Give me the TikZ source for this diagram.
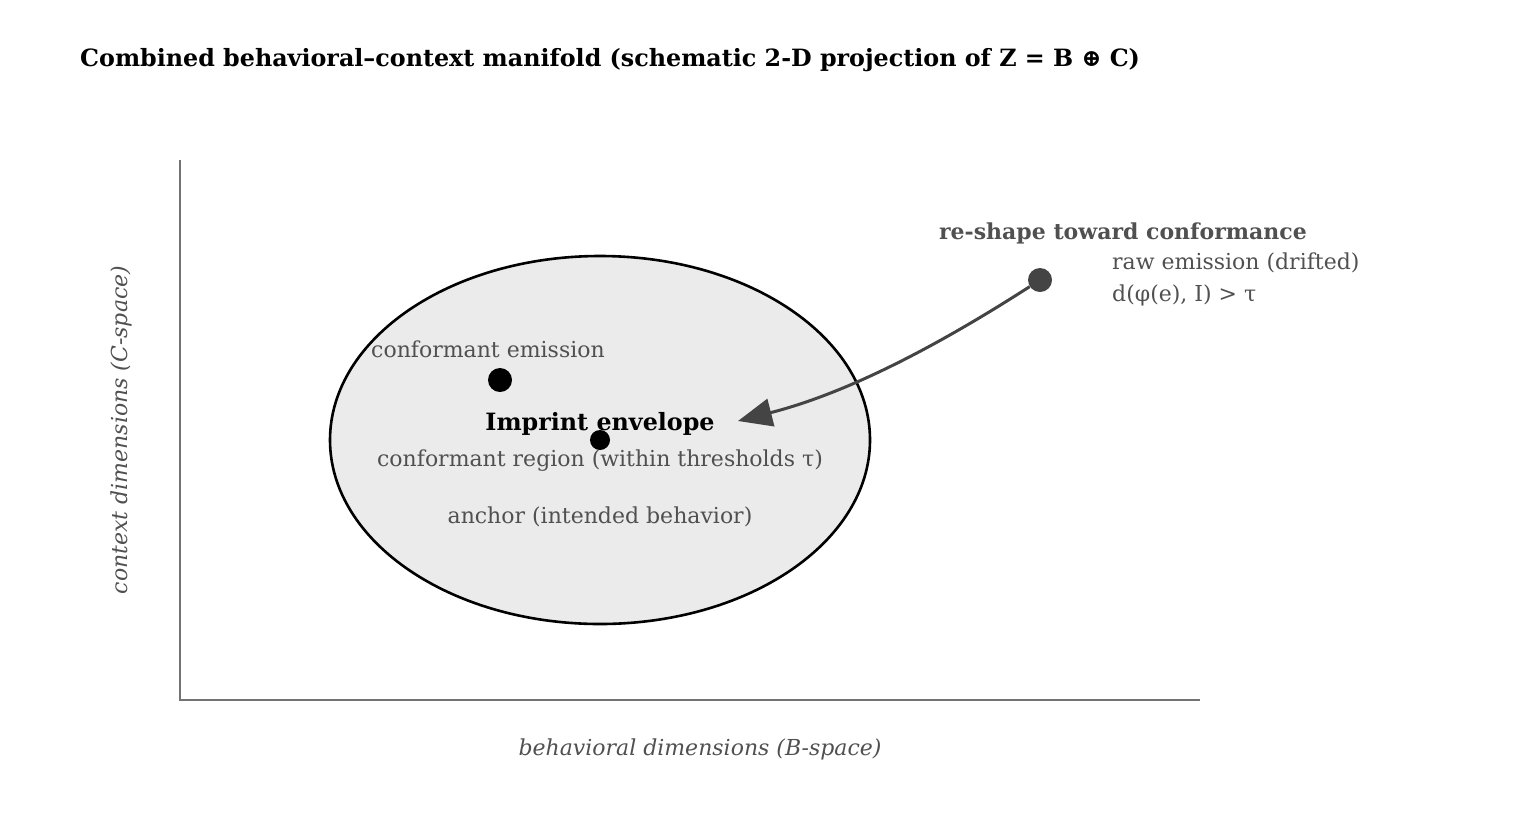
\documentclass[tikz,border=0pt]{standalone}
\usepackage{fontspec}
\setmainfont{DejaVu Serif}
\usetikzlibrary{arrows.meta,shapes.geometric}
\definecolor{tg}{HTML}{505050}
\definecolor{dk}{HTML}{444444}
\tikzset{lbl/.style={text=tg,font=\fontsize{22}{26}\selectfont,inner sep=0pt},
 dot/.style={circle,fill=#1,draw=none,inner sep=0pt}}
\begin{document}
\begin{tikzpicture}[x=1pt,y=-1pt]
\useasboundingbox (0,0) rectangle (1520,820);
\node[anchor=west,font=\fontsize{23.8}{28}\selectfont\bfseries,inner sep=0pt] (title) at (80,60) {Combined behavioral–context manifold (schematic 2-D projection of Z = B ⊕ C)};
\coordinate (ytop) at (180,160); \coordinate (org) at (180,700); \coordinate (xend) at (1200,700);
\draw[color=gray!110,line width=2pt] (ytop) -- (org) -- (xend);
\node[lbl,font=\fontsize{22}{26}\selectfont\itshape] (xl) at (700,749) {behavioral dimensions (B-space)};
\node[lbl,font=\fontsize{22}{26}\selectfont\itshape,rotate=90] (yl) at (121,430) {context dimensions (C-space)};
\node[ellipse,draw=black,line width=2.6pt,fill=black!8,minimum width=540,minimum height=368,inner sep=0pt] (env) at (600,440) {};
\node[font=\fontsize{23.8}{28}\selectfont\bfseries,inner sep=0pt] (envl) at (600,424) {Imprint envelope};
\node[dot=black,minimum size=20] (anchor) at (600,440) {};
\node[lbl] (reg) at (600,461) {conformant region (within thresholds τ)};
\node[lbl] (anl) at (600,517) {anchor (intended behavior)};
\node[dot=black,minimum size=24] (conf) at (500,380) {};
\node[lbl] (confl) at (488,349) {conformant emission};
\node[dot=dk,minimum size=24] (raw) at (1040,280) {};
\node[lbl,anchor=west] (rawl) at (1112,263) {raw emission (drifted)};
\node[lbl,anchor=west] (rawd) at (1112,295) {d(φ(e), I) > τ};
\node[lbl,font=\fontsize{22}{26}\selectfont\bfseries] (resh) at (1123,233) {re-shape toward conformance};
\coordinate (tip) at (738,421);
\draw[dk,line width=3pt,-{Triangle[length=34pt,width=28pt]}] (raw) .. controls (900,370) and (820,400) .. (tip);
\end{tikzpicture}
\end{document}
